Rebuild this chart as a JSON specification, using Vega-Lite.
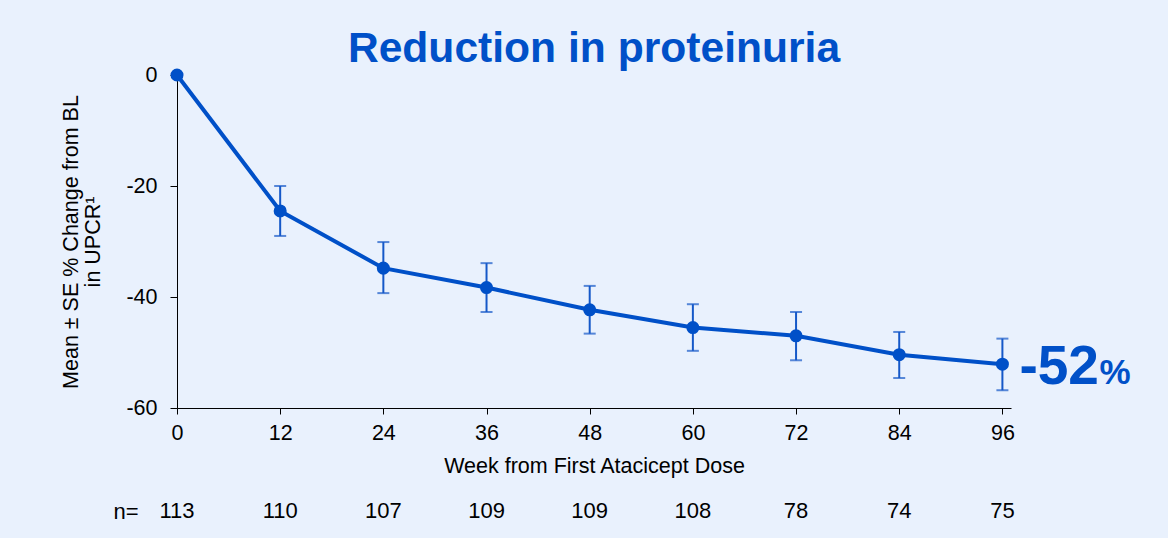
{
  "$schema": "https://vega.github.io/schema/vega-lite/v6.json",
  "background": "#e9f1fd",
  "padding": {"left": 60, "top": 28, "right": 38, "bottom": 13},
  "config": {
    "font": "Liberation Sans",
    "view": {"stroke": null},
    "axis": {
      "labelFont": "Liberation Sans",
      "titleFont": "Liberation Sans",
      "labelColor": "#000000",
      "titleColor": "#000000",
      "domainColor": "#000000",
      "tickColor": "#000000",
      "grid": false,
      "labelFlush": false,
      "titleFontWeight": "normal"
    }
  },
  "spacing": 19,
  "vconcat": [
    {
      "width": 834,
      "height": 333,
      "title": {
        "text": "Reduction in proteinuria",
        "fontSize": 42.6,
        "fontWeight": "bold",
        "color": "#0050c8",
        "anchor": "middle",
        "offset": -7
      },
      "data": {
        "values": [
          {"week": 0, "mean": 0, "lower": null, "upper": null},
          {"week": 12, "mean": -24.5, "lower": -29.0, "upper": -20.0},
          {"week": 24, "mean": -34.8, "lower": -39.3, "upper": -30.1},
          {"week": 36, "mean": -38.3, "lower": -42.7, "upper": -33.9},
          {"week": 48, "mean": -42.3, "lower": -46.6, "upper": -38.0},
          {"week": 60, "mean": -45.5, "lower": -49.7, "upper": -41.3},
          {"week": 72, "mean": -47.0, "lower": -51.4, "upper": -42.7},
          {"week": 84, "mean": -50.4, "lower": -54.6, "upper": -46.3},
          {"week": 96, "mean": -52.1, "lower": -56.8, "upper": -47.5}
        ]
      },
      "encoding": {
        "x": {
          "field": "week",
          "type": "quantitative",
          "scale": {"domain": [0, 97], "nice": false},
          "axis": {
            "values": [0, 12, 24, 36, 48, 60, 72, 84, 96],
            "tickSize": 6,
            "labelFlush": false,
            "labelFontSize": 21.5,
            "labelPadding": 8,
            "title": "Week from First Atacicept Dose",
            "titleFontSize": 21.5,
            "titlePadding": 12
          }
        }
      },
      "layer": [
        {
          "transform": [{"filter": "datum.lower != null"}],
          "mark": {
            "type": "errorbar",
            "color": "#1558c8",
            "ticks": {"size": 12, "thickness": 2},
            "rule": {"strokeWidth": 2}
          },
          "encoding": {
            "y": {
              "field": "lower",
              "type": "quantitative",
              "scale": {"domain": [-60, 0], "nice": false},
              "axis": {
                "values": [0, -20, -40, -60],
                "labelExpr": "replace(datum.label, '−', '-')",
                "labelFlush": false,
                "tickSize": 7,
                "labelFontSize": 21.5,
                "labelPadding": 13,
                "title": ["Mean ± SE % Change from BL", "in UPCR¹"],
                "titleFontSize": 21.5,
                "titleLineHeight": 22,
                "titlePadding": 21
              }
            },
            "y2": {"field": "upper"}
          }
        },
        {
          "mark": {"type": "line", "color": "#0050c8", "strokeWidth": 4},
          "encoding": {"y": {"field": "mean", "type": "quantitative"}}
        },
        {
          "mark": {"type": "point", "filled": true, "size": 170, "color": "#0050c8", "opacity": 1},
          "encoding": {"y": {"field": "mean", "type": "quantitative"}}
        },
        {
          "data": {"values": [{"week": 96, "mean": -52.1, "pct": "-52", "unit": "%"}]},
          "layer": [
            {
              "mark": {"type": "text", "fontSize": 55, "fontWeight": "bold", "color": "#0050c8", "align": "left", "baseline": "alphabetic", "dx": 17, "dy": 20},
              "encoding": {"y": {"field": "mean", "type": "quantitative"}, "text": {"field": "pct"}}
            },
            {
              "mark": {"type": "text", "fontSize": 35, "fontWeight": "bold", "color": "#0050c8", "align": "left", "baseline": "alphabetic", "dx": 97, "dy": 20},
              "encoding": {"y": {"field": "mean", "type": "quantitative"}, "text": {"field": "unit"}}
            }
          ]
        }
      ]
    },
    {
      "width": 834,
      "height": 30,
      "data": {
        "values": [
          {"week": 0, "n": 113, "row": "n="},
          {"week": 12, "n": 110, "row": "n="},
          {"week": 24, "n": 107, "row": "n="},
          {"week": 36, "n": 109, "row": "n="},
          {"week": 48, "n": 109, "row": "n="},
          {"week": 60, "n": 108, "row": "n="},
          {"week": 72, "n": 78, "row": "n="},
          {"week": 84, "n": 74, "row": "n="},
          {"week": 96, "n": 75, "row": "n="}
        ]
      },
      "mark": {"type": "text", "fontSize": 22, "baseline": "middle", "color": "#000000"},
      "encoding": {
        "x": {"field": "week", "type": "quantitative", "scale": {"domain": [0, 97], "nice": false}, "axis": null},
        "y": {"field": "row", "type": "nominal", "axis": {"title": null, "domain": false, "ticks": false, "labelFontSize": 22, "labelPadding": 39}},
        "text": {"field": "n"}
      }
    }
  ]
}
